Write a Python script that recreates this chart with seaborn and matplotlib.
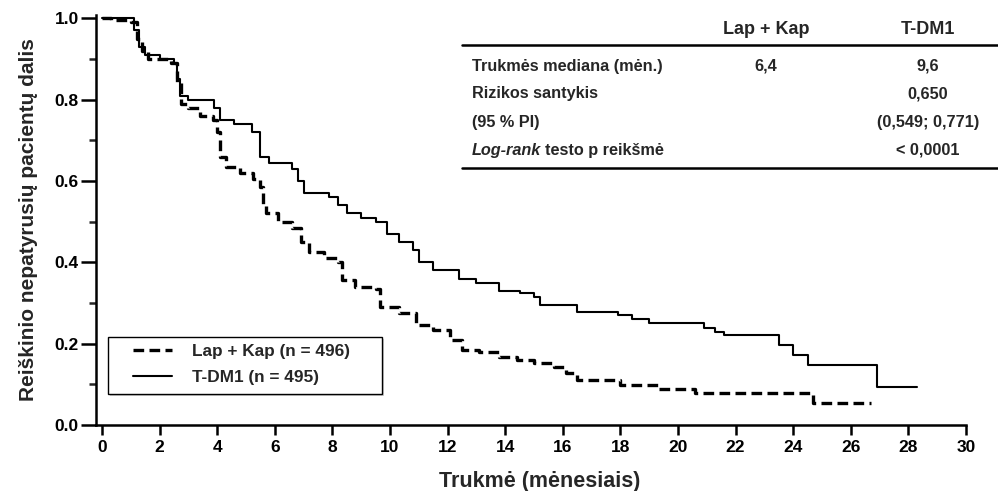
import numpy as np
import pandas as pd
import matplotlib
matplotlib.use("Agg")
import matplotlib.pyplot as plt
import seaborn as sns
from matplotlib.lines import Line2D
from matplotlib.patches import Rectangle
from matplotlib.ticker import MultipleLocator

# ---------------- data ----------------
tdm1_time = [0, 1.1, 1.3, 1.5, 2.0, 2.5, 2.6, 2.7, 3.0, 3.9, 4.1, 4.6, 5.2, 5.5, 5.8,
             6.6, 6.8, 7.0, 7.9, 8.2, 8.5, 9.0, 9.5, 9.9, 10.3, 10.8, 11.0, 11.5,
             12.4, 13.0, 13.8, 14.5, 15.0, 15.2, 16.5, 17.9, 18.4, 19.0, 20.9, 21.3,
             21.6, 23.5, 24.0, 24.5, 26.9, 28.3]
tdm1_surv = [1.0, 0.97, 0.93, 0.91, 0.90, 0.89, 0.85, 0.81, 0.80, 0.78, 0.75, 0.74,
             0.72, 0.66, 0.645, 0.63, 0.60, 0.57, 0.56, 0.54, 0.52, 0.51, 0.50, 0.47,
             0.45, 0.43, 0.40, 0.38, 0.36, 0.35, 0.33, 0.325, 0.315, 0.295, 0.278,
             0.27, 0.26, 0.25, 0.238, 0.229, 0.221, 0.197, 0.172, 0.147, 0.093, 0.093]

lapkap_time = [0, 0.3, 1.0, 1.2, 1.4, 1.6, 2.4, 2.6, 2.75, 3.0, 3.4, 3.85, 4.0, 4.1,
               4.3, 4.8, 5.25, 5.5, 5.6, 5.7, 6.1, 6.6, 6.9, 7.2, 7.7, 8.2, 8.35, 8.8,
               9.5, 9.65, 10.3, 10.9, 11.5, 12.1, 12.5, 13.1, 13.8, 14.4, 15.0, 15.7,
               16.1, 16.5, 18.0, 19.3, 20.6, 24.7, 26.7]
lapkap_surv = [1.0, 0.995, 0.99, 0.95, 0.92, 0.90, 0.89, 0.84, 0.79, 0.78, 0.76, 0.75,
               0.72, 0.66, 0.635, 0.62, 0.605, 0.585, 0.54, 0.52, 0.50, 0.485, 0.45,
               0.425, 0.41, 0.40, 0.356, 0.34, 0.335, 0.29, 0.275, 0.246, 0.233, 0.21,
               0.185, 0.18, 0.167, 0.16, 0.152, 0.143, 0.128, 0.11, 0.098, 0.088,
               0.078, 0.054, 0.054]

series_labels = ["Lap + Kap (n = 496)", "T-DM1 (n = 495)"]
x_ticks = list(range(0, 31, 2))
y_ticks = [0.0, 0.2, 0.4, 0.6, 0.8, 1.0]

table_header = ["Lap + Kap", "T-DM1"]
row_labels = ["Trukmės mediana (mėn.)", "Rizikos santykis", "(95 % PI)", "Log-rank"]
col1_vals = ["6,4", "", "", ""]
col2_vals = ["9,6", "0,650", "(0,549; 0,771)", "< 0,0001"]

# ---------------- style ----------------
sns.set_theme(style="ticks")
plt.rcParams["font.family"] = ["Liberation Sans", "DejaVu Sans"]
plt.rcParams["font.weight"] = "bold"
plt.rcParams["axes.labelweight"] = "bold"

W, H = 998, 491
fig = plt.figure(figsize=(W / 100, H / 100), dpi=100)
left_px, right_px, top_px, bottom_px = 96.2, 966, 15, 425
ax = fig.add_axes([left_px / W, 1 - bottom_px / H, (right_px - left_px) / W,
                   (bottom_px - top_px) / H])

df_l = pd.DataFrame({"time": lapkap_time, "surv": lapkap_surv})
df_t = pd.DataFrame({"time": tdm1_time, "surv": tdm1_surv})

sns.lineplot(data=df_l, x="time", y="surv", ax=ax, estimator=None, sort=False,
             drawstyle="steps-post", color="black", linewidth=2.4,
             linestyle=(0, (3.2, 1.6)), label=series_labels[0])
sns.lineplot(data=df_t, x="time", y="surv", ax=ax, estimator=None, sort=False,
             drawstyle="steps-post", color="black", linewidth=1.5,
             label=series_labels[1])

ax.set_xlim(-0.2, 30)
ax.set_ylim(0, 1.008)
ax.set_xticks(x_ticks)
ax.set_yticks(y_ticks)
ax.set_yticklabels([f"{v:.1f}" for v in y_ticks])
ax.yaxis.set_minor_locator(MultipleLocator(0.1))
ax.tick_params(axis="both", which="major", direction="out", width=1.8,
               labelsize=12.5, colors="black")
ax.tick_params(axis="x", which="major", length=7, pad=4)
ax.tick_params(axis="y", which="major", length=10.5, pad=2)
ax.tick_params(axis="y", which="minor", direction="out", length=5, width=1.8)
for lab in ax.get_xticklabels() + ax.get_yticklabels():
    lab.set_fontweight("bold")
sns.despine(ax=ax)
for s in ("left", "bottom"):
    ax.spines[s].set_linewidth(1.8)
    ax.spines[s].set_color("black")

ax.set_xlabel("Trukmė (mėnesiais)", fontsize=15.5, fontweight="bold", labelpad=11)
ax.xaxis.label.set_x(0.51)
ax.set_ylabel("Reiškinio nepatyrusių pacientų dalis", fontsize=15,
              fontweight="bold", labelpad=12)

# legend: frame drawn manually to match the reference padding
def fx(x):
    return x / W

def fy(y):
    return 1 - y / H

shadow = Rectangle((fx(110), fy(396)), 274 / W, 57 / H, transform=fig.transFigure,
                   facecolor="0.8", edgecolor="none", zorder=3.9, clip_on=False)
box = Rectangle((fx(108), fy(394)), 274 / W, 57 / H, transform=fig.transFigure,
                facecolor="white", edgecolor="black", linewidth=1.0, zorder=4,
                clip_on=False)
ax.add_patch(shadow)
ax.add_patch(box)

leg = ax.legend(loc="center left", bbox_to_anchor=(fx(133), fy(364.5)),
                bbox_transform=fig.transFigure, frameon=False,
                fontsize=12.4, handlelength=2.27, handletextpad=1.16,
                borderpad=0, labelspacing=0.62, borderaxespad=0)
leg.set_zorder(5)
for t in leg.get_texts():
    t.set_fontweight("bold")

# ---------------- table ----------------
fig.add_artist(Line2D([fx(462), fx(998)], [fy(45), fy(45)], color="black",
                      linewidth=1.8, transform=fig.transFigure))
fig.add_artist(Line2D([fx(462), fx(998)], [fy(168), fy(168)], color="black",
                      linewidth=1.8, transform=fig.transFigure))
tfs = 11.7
fig.text(fx(766), fy(30), table_header[0], ha="center", va="center",
         fontsize=13, fontweight="bold")
fig.text(fx(928), fy(30), table_header[1], ha="center", va="center",
         fontsize=13, fontweight="bold")
row_y = [66, 94, 122, 150]
for i, yy in enumerate(row_y):
    if i < 3:
        fig.text(fx(472), fy(yy), row_labels[i], ha="left", va="center",
                 fontsize=tfs, fontweight="bold")
    else:
        t1 = fig.text(fx(472), fy(yy), row_labels[i], ha="left", va="center",
                      fontsize=tfs, fontweight="bold", fontstyle="italic")
        ax.annotate("testo p reikšmė", xy=(1, 0), xycoords=t1,
                    xytext=(2.5, 0), textcoords="offset points", ha="left",
                    va="bottom", fontsize=tfs, fontweight="bold",
                    annotation_clip=False)
    if col1_vals[i]:
        fig.text(fx(766), fy(yy), col1_vals[i], ha="center", va="center",
                 fontsize=tfs, fontweight="bold")
    if col2_vals[i]:
        fig.text(fx(928), fy(yy), col2_vals[i], ha="center", va="center",
                 fontsize=tfs, fontweight="bold")

fig.savefig("out.png", dpi=100)
